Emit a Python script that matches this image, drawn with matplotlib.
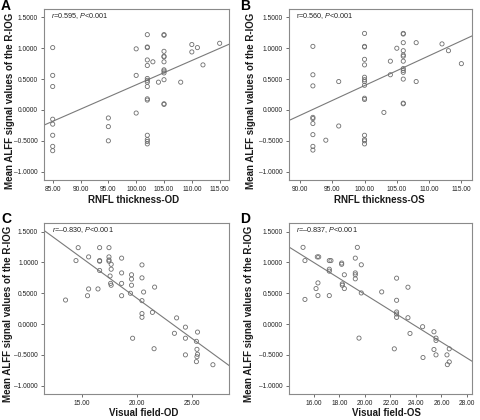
import numpy as np
import matplotlib
matplotlib.use("Agg")
import matplotlib.pyplot as plt

plt.rcParams['font.family'] = ['Liberation Sans', 'DejaVu Sans']
plt.rcParams['mathtext.fontset'] = 'custom'
plt.rcParams['mathtext.rm'] = 'Liberation Sans'
plt.rcParams['mathtext.it'] = 'Liberation Sans:italic'

# ALFF values of the R-IOG vs RNFL thickness / visual field
rnfl_od = [85]*8 + [95]*3 + [100]*3 + [102]*15 + [103, 104] + [105]*12 + [108, 110, 110, 111, 112, 115]
alff_a = [1.01, 0.56, 0.38, -0.15, -0.23, -0.41, -0.59, -0.66,
          -0.13, -0.27, -0.50,
          0.99, 0.56, -0.05,
          1.22, 1.02, 1.01, 0.81, 0.72, 0.51, 0.48, 0.45, 0.38, 0.18, 0.16, -0.41, -0.48, -0.51, -0.55,
          0.78, 0.45,
          1.22, 1.21, 0.95, 0.87, 0.86, 0.78, 0.65, 0.63, 0.60, 0.49, 0.10, 0.09,
          0.45, 1.06, 0.94, 1.01, 0.73, 1.08]

rnfl_os = [92]*9 + [94, 96, 96] + [100]*15 + [103, 104, 104, 105] + [106]*13 + [108, 108, 112, 113, 115]
alff_b = [1.03, 0.57, 0.39, -0.12, -0.14, -0.22, -0.40, -0.59, -0.65,
          -0.49, 0.46, -0.26,
          1.24, 1.03, 1.02, 0.82, 0.73, 0.53, 0.49, 0.46, 0.40, 0.19, 0.17, -0.41, -0.48, -0.50, -0.55,
          -0.04, 0.79, 0.57, 1.00,
          1.24, 1.23, 1.09, 0.96, 0.89, 0.87, 0.79, 0.67, 0.64, 0.61, 0.50, 0.11, 0.10,
          1.09, 0.46, 1.07, 0.96, 0.75]

vf_od = [13.5, 14.45, 14.65, 15.5, 15.6, 15.6, 16.45, 16.6, 16.6, 16.6, 16.6,
         17.45, 17.45, 17.45, 17.45, 17.55, 17.65, 17.65, 17.6, 17.65,
         18.6, 18.6, 18.6, 18.6, 19.5, 19.5, 19.5, 19.4, 19.6,
         20.45, 20.45, 20.6, 20.45, 20.45, 20.45, 21.4, 21.6, 21.55,
         23.6, 23.4, 24.4, 24.4, 24.4, 25.4, 25.45, 25.5, 25.5, 25.45, 25.4, 26.9]
alff_c = [0.39, 1.03, 1.24, 0.46, 0.57, 1.09, 0.57, 1.24, 1.03, 1.02, 0.87,
          1.24, 1.09, 1.04, 1.02, 0.78, 0.97, 0.89, 0.66, 0.63,
          1.07, 0.83, 0.66, 0.46, 0.80, 0.73, 0.63, 0.50, -0.23,
          0.96, 0.75, 0.52, 0.38, 0.17, 0.11, 0.19, 0.60, -0.40,
          0.10, -0.15, -0.05, -0.23, -0.50, -0.28, -0.41, -0.13, -0.49, -0.53, -0.61, -0.66]

vf_os = [15.14, 15.29, 15.29, 16.16, 16.26, 16.37, 16.31, 16.31,
         17.2, 17.2, 17.2, 17.2, 17.33, 18.17, 18.17, 18.22, 18.22, 18.38, 18.38,
         19.24, 19.24, 19.24, 19.24, 19.4, 19.71, 19.71, 19.53, 21.31,
         22.3, 22.48, 22.48, 22.48, 22.48, 22.48, 23.37, 23.37, 23.53,
         24.52, 24.55, 25.41, 25.41, 25.57, 25.57, 25.57, 26.43, 26.46, 26.61, 26.61]
alff_d = [1.245, 1.03, 0.40, 0.576, 1.09, 1.09, 0.668, 0.462,
          0.462, 1.03, 0.89, 0.859, 1.03, 0.99, 0.97, 0.652, 0.63, 0.80, 0.576,
          1.07, 0.83, 0.80, 0.734, 1.245, 0.962, 0.505, -0.228, 0.522,
          -0.402, 0.745, 0.386, 0.196, 0.163, 0.109, 0.598, 0.103, -0.152,
          -0.043, -0.543, -0.125, -0.413, -0.228, -0.266, -0.5, -0.5, -0.658, -0.614, -0.402]

# fit lines (slope, intercept)
fit_a = (0.0394, -3.533)
fit_b = (0.0483, -4.435)
fit_c = (-0.1303, 3.024)
fit_d = (-0.1291, 3.0626)

r_text = [r'$\it{r}$=0.595, $\it{P}$<0.001', r'r=0.560, $\it{P}$<0.001',
          r'$\it{r}$=–0.830, $\it{P}$<0.001', r'$\it{r}$=–0.837, $\it{P}$<0.001']
x_labels = ['RNFL thickness-OD', 'RNFL thickness-OS', 'Visual field-OD', 'Visual field-OS']
y_label = 'Mean ALFF signal values of the R-IOG'
y_ticks = [-1.0, -0.5, 0.0, 0.5, 1.0, 1.5]

fig = plt.figure(figsize=(4.8, 4.2), dpi=100)

panels = [
    ('A', [0.0917, 0.5714, 0.3854, 0.4071], rnfl_od, alff_a, fit_a, (83.44, 116.68), np.arange(85, 116, 5), (-0.157, 0.46), (0.483, -0.088)),
    ('B', [0.6021, 0.5714, 0.3806, 0.4071], rnfl_os, alff_b, fit_b, (88.3, 116.6), np.arange(90, 116, 5), (-0.181, 0.46), (0.497, -0.088)),
    ('C', [0.0923, 0.0619, 0.3854, 0.4064], vf_od, alff_c, fit_c, (11.57, 28.39), np.arange(15, 26, 5), (-0.168, 0.47), (0.535, -0.080)),
    ('D', [0.6021, 0.0619, 0.3806, 0.4064], vf_os, alff_d, fit_d, (14.04, 28.37), np.arange(16, 29, 2), (-0.190, 0.47), (0.536, -0.080)),
]

for i, (letter, pos, x, y, fit, xlim, xticks, ylab_pos, xlab_pos) in enumerate(panels):
    ax = fig.add_axes(pos)
    ax.scatter(x, y, s=9, facecolors='none', edgecolors='#6e6e6e', linewidths=0.6, zorder=3)
    xs = np.array(xlim)
    ax.plot(xs, fit[0] * xs + fit[1], color='#7a7a7a', lw=0.8, zorder=2)

    ax.set_xlim(xlim)
    ax.set_ylim(-1.135, 1.635)
    ax.set_xticks(xticks)
    ax.set_xticklabels(['%.2f' % t for t in xticks])
    ax.set_yticks(y_ticks)
    ax.set_yticklabels([('%.4f' % t).replace('-', '\u2013') for t in y_ticks])
    ax.tick_params(labelsize=4.8, colors='#555555', labelcolor='#222222', length=2.5, width=0.6, pad=2)
    for sp in ax.spines.values():
        sp.set_color('#8a8a8a')
        sp.set_linewidth(0.8)

    ax.set_ylabel(y_label, fontsize=7, fontweight='bold', color='#1a1a1a')
    ax.yaxis.set_label_coords(*ylab_pos)
    ax.set_xlabel(x_labels[i], fontsize=7, fontweight='bold', color='#1a1a1a')
    ax.xaxis.set_label_coords(*xlab_pos)

    ax.text(0.04, 0.96, r_text[i], transform=ax.transAxes, fontsize=5.2,
            color='#222222', ha='left', va='center')

    # panel letter at the top-left corner of each quadrant
    fx = 0.002 if letter in 'AC' else 0.5
    fy = 1.003 if letter in 'AB' else 0.495
    fig.text(fx, fy, letter, fontsize=10, fontweight='bold', ha='left', va='top')

fig.savefig('out.png', dpi=100)
